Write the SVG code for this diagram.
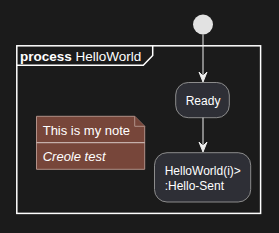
<svg xmlns="http://www.w3.org/2000/svg" width="279" height="233" viewBox="0 0 279 233">
<style>
.bg{fill:#1b1b1b}
.frame{fill:none;stroke:#ffffff;stroke-width:1.5}
.node{fill:#2e2f36;stroke:#8c8c8c;stroke-width:1}
.note{fill:#77463a;stroke:#b09088;stroke-width:1}
.edge{stroke:#f0f0f0;stroke-width:1;fill:none}
.head{fill:#f0f0f0;stroke:#f0f0f0;stroke-width:1}
text{font-family:"Liberation Sans",Arial,sans-serif;fill:#ffffff}
</style>
<rect class="bg" x="0" y="0" width="279" height="233"/>
<g id="frame">
<rect class="frame" x="16.8" y="45.8" width="243.8" height="167.6"/>
<path class="frame" d="M16.8,65.3 L143.3,65.3 L152.7,55.5 L152.7,45.8"/>
<text x="20" y="60.8" font-size="13.5"><tspan font-weight="bold">process</tspan> HelloWorld</text>
</g>
<g id="start">
<circle cx="203" cy="24.5" r="10" fill="#e2e2e2"/>
</g>
<g id="ready">
<rect class="node" x="175.7" y="82.5" width="53.6" height="35.2" rx="12.5" ry="12.5"/>
<text x="185.7" y="104.6" font-size="12">Ready</text>
</g>
<g id="sent">
<rect class="node" x="154.5" y="152.7" width="96.2" height="49.3" rx="12.5" ry="12.5"/>
<text x="164.7" y="175.3" font-size="12">HelloWorld(i)&gt;</text>
<text x="164.7" y="190.3" font-size="12">:Hello-Sent</text>
</g>
<g id="note">
<path class="note" d="M36.5,116.3 L134.7,116.3 L144.7,126.3 L144.7,169.3 L36.5,169.3 Z"/>
<path class="note" d="M134.7,116.3 L134.7,126.3 L144.7,126.3"/>
<line x1="36.5" y1="142.7" x2="144.7" y2="142.7" stroke="#d8c8c4" stroke-width="1"/>
<text x="42.7" y="135.4" font-size="13">This is my note</text>
<text x="42.7" y="160.6" font-size="13" font-style="italic">Creole test</text>
</g>
<g id="connectors">
<line class="edge" x1="203" y1="34.5" x2="203" y2="78"/>
<polygon class="head" points="199,72 203,82 207,72 203,76"/>
<line class="edge" x1="203" y1="117.7" x2="203" y2="148"/>
<polygon class="head" points="199,142 203,152 207,142 203,146"/>
</g>
</svg>
